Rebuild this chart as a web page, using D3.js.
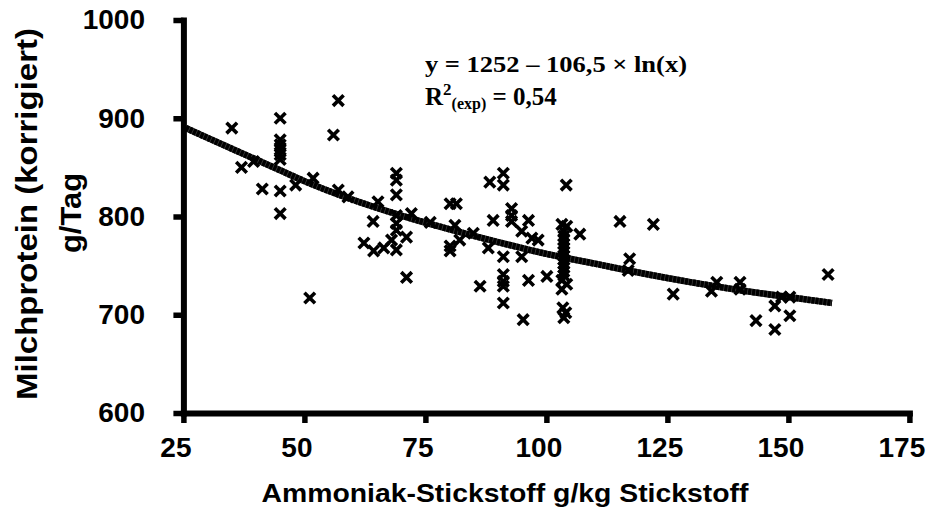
<!DOCTYPE html>
<html>
<head>
<meta charset="utf-8">
<script src="https://cdn.jsdelivr.net/npm/d3@7"></script>
<style>
  html, body { margin: 0; padding: 0; background: #fff; }
  svg { display: block; }
  text { font-family: "Liberation Sans", Arial, sans-serif; font-weight: bold; fill: #000; }
  .eq text, .eq tspan { font-family: "Liberation Serif", "Times New Roman", serif; }
</style>
</head>
<body>
<svg id="chart" width="928" height="515"></svg>
<script>
// ---- data ----
const ammoniak = [
  35, 37, 39.5, 41.3, 45, 45, 45, 45, 45, 45, 45, 45, 48.2, 51.8, 51.1, 57, 56, 57, 59,
  62.3, 64.2, 64.3, 65.2, 66.4, 68, 69, 69, 69, 69, 69, 69, 69, 71.1, 72.1, 71.1, 76, 80.1, 81.4, 81.1, 82.1, 80.1, 80.1,
  84.9, 86.3, 88.3, 88, 89, 91.1, 91.1, 91.1, 91.1, 91.1, 91.1, 91.1, 92.8, 92.8, 92.8, 94.9, 94.9, 95.2, 96.3, 96.3, 97, 98.3, 100.1,
  104.1, 103.2, 104.2, 103.6, 103.6, 103.6, 103.6, 103.6, 103.6, 103.6, 103.6, 103.6, 103.6, 103.6, 103.6, 103.2, 104.2, 103.2, 103.4, 104.0, 103.6, 106.9,
  115.2, 122.1, 117.2, 116.9, 126.2, 134.1, 135.2, 140, 140, 143.3, 147.2, 148.6, 150.3, 150.3, 147.2, 158.2
];
const milchprotein = [
  890, 850, 856, 828, 900, 878, 873, 868, 863, 858, 826, 803, 832, 839, 717, 918, 883, 827, 820,
  773, 795, 765, 815, 768, 776, 844, 837, 822, 801, 793, 786, 766, 779, 803, 738, 794, 813, 813, 791, 776, 770, 765,
  783, 729, 835, 768, 796, 844, 832, 759, 741, 734, 729, 712, 808, 801, 795, 785, 759, 695, 796, 735, 778, 776, 739,
  832, 792, 790, 785, 780, 776, 772, 768, 764, 760, 756, 752, 748, 744, 740, 735, 731, 726, 707, 702, 697, 782,
  795, 792, 757, 745, 721, 724, 733, 733, 726, 694, 709, 718, 718, 699, 685, 741
];
// trend curve
const trendX = [25.5, 30, 35, 40, 45, 50, 60, 70, 80, 90, 100, 110, 120, 130, 140, 150, 159];
const trendY = [890, 880, 869, 858, 847, 836, 817, 801, 787, 774, 762, 752, 742, 733, 725, 718, 712];

const xTicks = [25, 50, 75, 100, 125, 150, 175];
const yTicks = [600, 700, 800, 900, 1000];
const xTitle = "Ammoniak-Stickstoff g/kg Stickstoff";
const yTitle1 = "Milchprotein (korrigiert)";
const yTitle2 = "g/Tag";
const eqLine1 = "y = 1252 \u2013 106,5 \u00d7 ln(x)";

// ---- drawing ----
const svg = d3.select("#chart");
svg.append("rect").attr("width", 928).attr("height", 515).attr("fill", "#fff");

const x = d3.scaleLinear().domain([25, 175]).range([183.4, 909.4]);
const y = d3.scaleLinear().domain([600, 1000]).range([413, 20]);

// trend line
const trend = trendX.map((v, i) => [v, trendY[i]]);
const line = d3.line().x(d => x(d[0])).y(d => y(d[1])).curve(d3.curveMonotoneX);
svg.append("path").datum(trend).attr("d", line)
  .attr("fill", "none").attr("stroke", "#3a3a3a").attr("stroke-width", 6.5);
svg.append("path").datum(trend).attr("d", line)
  .attr("fill", "none").attr("stroke", "#000").attr("stroke-width", 6.5)
  .attr("stroke-dasharray", "3.2,0.8");

// scatter crosses
const pts = ammoniak.map((v, i) => [v, milchprotein[i]]);
const s = 5.3;
svg.append("g").selectAll("path").data(pts).join("path")
  .attr("transform", d => `translate(${x(d[0])},${y(d[1])})`)
  .attr("d", `M${-s},${-s}L${s},${s}M${-s},${s}L${s},${-s}`)
  .attr("stroke", "#000").attr("stroke-width", 3.6).attr("fill", "none");

// axes
const yAxis = svg.append("g").attr("transform", "translate(183.4,0)")
  .call(d3.axisLeft(y).tickValues(yTicks).tickSize(10).tickSizeOuter(0).tickPadding(28.4).tickFormat(d3.format("d")));
const xAxis = svg.append("g").attr("transform", "translate(0,413)")
  .call(d3.axisBottom(x).tickValues(xTicks).tickSize(10).tickSizeOuter(0).tickPadding(13.7).tickFormat(d3.format("d")));

[yAxis, xAxis].forEach(g => {
  g.select(".domain").attr("stroke", "#000").attr("stroke-width", 6).attr("stroke-linecap", "square");
  g.selectAll(".tick line").attr("stroke", "#000").attr("stroke-width", 5.5);
  g.selectAll(".tick text").attr("font-size", 28).attr("font-family", "Liberation Sans, Arial, sans-serif")
    .attr("font-weight", "bold").attr("fill", "#000");
});
xAxis.selectAll(".tick text").attr("dx", -8);

// axis titles
svg.append("text").attr("x", 505).attr("y", 502).attr("text-anchor", "middle")
  .attr("font-size", 26).attr("textLength", 487).attr("lengthAdjust", "spacingAndGlyphs").text(xTitle);
svg.append("text").attr("transform", "translate(37,214) rotate(-90)").attr("text-anchor", "middle")
  .attr("font-size", 29).attr("textLength", 372).attr("lengthAdjust", "spacingAndGlyphs").text(yTitle1);
svg.append("text").attr("transform", "translate(81,213) rotate(-90)").attr("text-anchor", "middle")
  .attr("font-size", 29).attr("textLength", 80).attr("lengthAdjust", "spacingAndGlyphs").text(yTitle2);

// equation
const eq = svg.append("g").attr("class", "eq");
eq.append("text").attr("x", 425).attr("y", 72).attr("font-size", 24)
  .attr("textLength", 262).attr("lengthAdjust", "spacingAndGlyphs").text(eqLine1);
const r2 = eq.append("text").attr("x", 425).attr("y", 105).attr("font-size", 25);
r2.append("tspan").text("R");
r2.append("tspan").attr("font-size", 17).attr("dy", -10).text("2");
r2.append("tspan").attr("font-size", 16).attr("dy", 14).text("(exp)");
r2.append("tspan").attr("dy", -4).text(" = 0,54");
</script>
</body>
</html>
